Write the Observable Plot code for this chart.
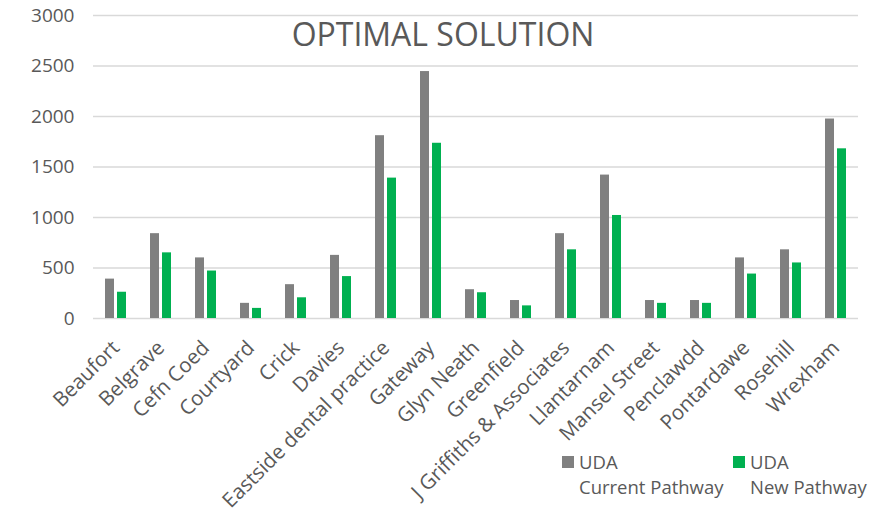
<!DOCTYPE html>
<html>
<head>
<meta charset="utf-8">
<script src="https://cdn.jsdelivr.net/npm/d3@7"></script>
<script src="https://cdn.jsdelivr.net/npm/@observablehq/plot@0.6"></script>
<style>
  html, body { margin: 0; padding: 0; background: #fff; }
  #wrap { position: relative; width: 873px; height: 513px; font-family: "Open Sans", sans-serif; color: #595959; }
  #title { position: absolute; left: 0; width: 886px; top: 12px; text-align: center; font-size: 32px; color: #595959; }
  .leg { position: absolute; font-size: 18.5px; line-height: 25px; color: #595959; }
  .sw { position: absolute; width: 12px; height: 12px; }
</style>
</head>
<body>
<div id="wrap">
  <div id="chart"></div>
  <div id="title">OPTIMAL SOLUTION</div>
</div>
<script>
const categories = ["Beaufort","Belgrave","Cefn Coed","Courtyard","Crick","Davies","Eastside dental practice","Gateway","Glyn Neath","Greenfield","J Griffiths & Associates","Llantarnam","Mansel Street","Penclawdd","Pontardawe","Rosehill","Wrexham"];
const seriesNames = ["UDA Current Pathway","UDA New Pathway"];
const currentPathway = [390, 840, 600, 150, 335, 625, 1810, 2445, 285, 178, 840, 1420, 178, 178, 600, 680, 1975];
const newPathway = [260, 650, 470, 100, 205, 415, 1390, 1735, 255, 125, 680, 1020, 150, 150, 440, 550, 1680];
const yTicks = [0, 500, 1000, 1500, 2000, 2500, 3000];
const colors = ["#808080", "#00b050"];

const data = categories.flatMap((c, i) => [
  {cat: c, series: seriesNames[0], value: currentPathway[i]},
  {cat: c, series: seriesNames[1], value: newPathway[i]}
]);

const chart = Plot.plot({
  width: 873,
  height: 513,
  marginTop: 15,
  marginBottom: 195,
  marginLeft: 92,
  marginRight: 15,
  style: {fontFamily: "'Open Sans', sans-serif", fontSize: "18px", color: "#595959", background: "transparent"},
  fx: {domain: categories, padding: 0, label: null},
  x: {domain: seriesNames, axis: null, paddingInner: 0.235, paddingOuter: 0.88},
  y: {domain: [0, 3000], label: null},
  color: {domain: seriesNames, range: colors},
  marks: [
    Plot.ruleY(yTicks, {stroke: "#d9d9d9", strokeWidth: 1.5}),
    Plot.barY(data, {fx: "cat", x: "series", y: "value", fill: "series"}),
    Plot.axisY(yTicks, {tickSize: 0, tickPadding: 19, tickFormat: d => String(d), fontSize: 19, label: null}),
    Plot.axisFx({anchor: "bottom", tickRotate: -45, tickSize: 0, tickPadding: 26, fontSize: 20.5, label: null})
  ]
});
document.getElementById("chart").appendChild(chart);

// legend
const wrap = document.getElementById("wrap");
const legPos = [{sx: 562, tx: 579, l1: "UDA", l2: "Current Pathway"}, {sx: 733, tx: 750, l1: "UDA", l2: "New Pathway"}];
legPos.forEach((p, i) => {
  const sw = document.createElement("div");
  sw.className = "sw";
  sw.style.left = p.sx + "px";
  sw.style.top = "456px";
  sw.style.background = colors[i];
  wrap.appendChild(sw);
  const t = document.createElement("div");
  t.className = "leg";
  t.style.left = p.tx + "px";
  t.style.top = "449px";
  t.innerHTML = p.l1 + "<br>" + p.l2;
  wrap.appendChild(t);
});
</script>
</body>
</html>
